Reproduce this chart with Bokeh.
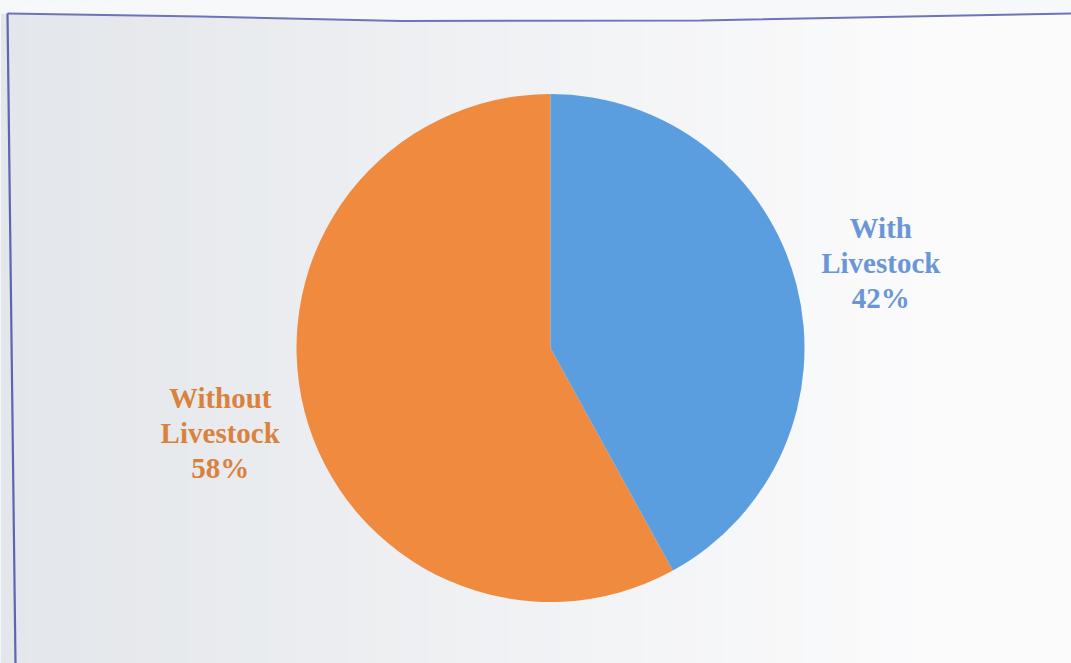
import math
from bokeh.plotting import figure
from bokeh.models import Range1d, ColumnDataSource
from bokeh.core.properties import value
from bokeh.embed import file_html
from bokeh.resources import INLINE

# ---- data ----
categories = ["Without Livestock", "With Livestock"]
label_lines = ["Without\nLivestock", "With\nLivestock"]
percents = [58, 42]
slice_colors = ["#f08a3e", "#5b9ee0"]
text_colors = ["#d9823e", "#6b96d6"]

W, H = 1071, 663
p = figure(width=W, height=H, x_range=Range1d(0, W), y_range=Range1d(0, H),
           output_backend="svg", toolbar_location=None, min_border=0,
           background_fill_color="#f6f7f8", border_fill_color="#f6f7f8")
p.axis.visible = False
p.grid.visible = False
p.outline_line_color = None

# paper background (soft left-to-right brightness gradient of the photo)
n = 40
c0 = (0xe3, 0xe6, 0xea)
c1 = (0xfb, 0xfb, 0xfc)
lefts, rights, cols = [], [], []
for i in range(n):
    t = i / (n - 1)
    t2 = min(1.0, t * 1.15)
    c = tuple(int(round(c0[k] + (c1[k] - c0[k]) * t2)) for k in range(3))
    lefts.append(i * W / n)
    rights.append((i + 1) * W / n + 0.5)
    cols.append("#%02x%02x%02x" % c)
p.quad(left=lefts, right=rights, bottom=0, top=H, fill_color=cols, line_color=None)

def sy(y):
    return H - y
def sx(x):
    return x

# area above the frame line is whiter
top_x = [sx(v) for v in [0, 200, 400, 700, 1071, 1071, 0]]
top_y = [sy(v) for v in [13, 16, 20.5, 20, 13, 0, 0]]
p.patch(top_x, top_y, fill_color="#f7f8fa", line_color=None)

# frame lines
p.line([sx(v) for v in [7, 200, 400, 700, 1071]], [sy(v) for v in [13, 16, 20.5, 20, 13]],
       line_color="#6d74b8", line_width=2)
p.line([sx(7), sx(15)], [sy(13), sy(663)], line_color="#5d66b0", line_width=2.2)

# pie
cx, cy, r = sx(550), sy(347.5), 254
total = sum(percents)
starts, ends, mids = [], [], []
a = math.pi / 2
for v in percents:
    span = 2 * math.pi * v / total
    starts.append(a)
    ends.append(a + span)
    mids.append(a + span / 2)
    a += span

src = ColumnDataSource(dict(cat=categories, start=starts, end=ends, color=slice_colors))
p.wedge(x=cx, y=cy, radius=r, radius_units="screen", start_angle="start", end_angle="end",
        fill_color="color", line_color=None, source=src)

# labels
dist = 341
lx = [cx + dist * math.cos(m) for m in mids]
ly = [cy + dist * math.sin(m) for m in mids]
texts = [f"{l}\n{v}%" for l, v in zip(label_lines, percents)]
p.text(x=lx, y=ly, text=texts, text_color=text_colors, text_align="center",
       text_baseline="middle", text_font=value("Liberation Serif"),
       text_font_style="bold", text_font_size="29px", text_line_height=1.1)

open("out.html", "w").write(file_html(p, INLINE))
